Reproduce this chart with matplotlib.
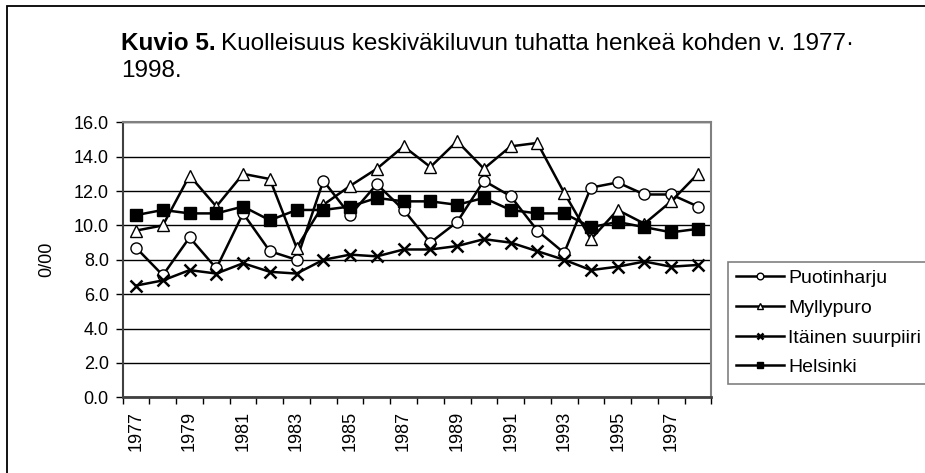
"""
Kuvio 5 — kuolleisuus keskiväkiluvun tuhatta henkeä kohden 1977–1998.
"""

import matplotlib
matplotlib.use("Agg")
import matplotlib.pyplot as plt
import matplotlib.patches as patches

# ── Data ───────────────────────────────────────────────────────────────────────
years = list(range(1977, 1999))

puotinharju = [8.7, 7.1, 9.3, 7.5, 10.7, 8.5, 8.0, 12.6, 10.6, 12.4, 10.9,
               9.0, 10.2, 12.6, 11.7, 9.7, 8.4, 12.2, 12.5, 11.8, 11.8, 11.1]
myllypuro = [9.7, 10.0, 12.9, 11.1, 13.0, 12.7, 8.7, 11.2, 12.3, 13.3, 14.6,
             13.4, 14.9, 13.3, 14.6, 14.8, 11.9, 9.2, 10.9, 10.1, 11.4, 13.0]
itainen = [6.5, 6.8, 7.4, 7.2, 7.8, 7.3, 7.2, 8.0, 8.3, 8.2, 8.6,
           8.6, 8.8, 9.2, 9.0, 8.5, 8.0, 7.4, 7.6, 7.9, 7.6, 7.7]
helsinki = [10.6, 10.9, 10.7, 10.7, 11.1, 10.3, 10.9, 10.9, 11.1, 11.6, 11.4,
            11.4, 11.2, 11.6, 10.9, 10.7, 10.7, 9.9, 10.2, 9.9, 9.6, 9.8]

series_labels = ["Puotinharju", "Myllypuro", "Itäinen suurpiiri", "Helsinki"]
y_ticks = [0, 2, 4, 6, 8, 10, 12, 14, 16]

# ── Figure ─────────────────────────────────────────────────────────────────────
plt.rcParams["font.family"] = ["Liberation Sans", "DejaVu Sans"]

W, H = 925, 473
fig = plt.figure(figsize=(W / 100, H / 100), dpi=100)

# outer frame (only left and top edges fall inside the picture)
fig.patches.append(patches.Rectangle(
    (7 / W, -0.2), 1.2, 1.2 - 6 / H, transform=fig.transFigure,
    fill=False, lw=1.3, edgecolor="black"))

ax = fig.add_axes([122.7 / W, 1 - 397.3 / H, (711.3 - 122.7) / W, (397.3 - 122.3) / H])

x = list(range(len(years)))
styles = [
    dict(marker="o", mfc="white", mec="black", ms=8),
    dict(marker="^", mfc="white", mec="black", ms=8),
    dict(marker="x", mfc="black", mec="black", ms=8, mew=1.8),
    dict(marker="s", mfc="black", mec="black", ms=8),
]
handles = []
for vals, lbl, st in zip([puotinharju, myllypuro, itainen, helsinki], series_labels, styles):
    ln, = ax.plot(x, vals, color="black", lw=1.8, label=lbl, **st, zorder=3)
    handles.append(ln)

ax.set_xlim(-0.5, len(years) - 0.5)
ax.set_ylim(0, 16)

# y axis
ax.set_yticks(y_ticks)
ax.set_yticklabels([f"{v:.1f}" for v in y_ticks], fontsize=13)
ax.tick_params(axis="y", direction="out", length=5, width=1, pad=5)
ax.yaxis.grid(True, color="black", lw=1.0)
ax.set_axisbelow(True)
ax.set_ylabel("0/00", fontsize=13, labelpad=13)

# x axis: ticks between categories, labels every other year
ax.set_xticks([i - 0.5 for i in range(len(years) + 1)])
ax.set_xticklabels([])
ax.tick_params(axis="x", which="major", direction="out", length=5, width=1)
ax.set_xticks(x[::2], minor=True)
ax.set_xticklabels([str(y) for y in years[::2]], minor=True, rotation=90, fontsize=13)
ax.tick_params(axis="x", which="minor", length=0, pad=10)

for side in ("top", "right"):
    ax.spines[side].set_color("#808080")
    ax.spines[side].set_linewidth(1.5)
ax.spines["left"].set_linewidth(1.5)
ax.spines["left"].set_color("#404040")
ax.spines["bottom"].set_linewidth(2)
ax.spines["bottom"].set_color("#404040")

# ── Legend ─────────────────────────────────────────────────────────────────────
leg = fig.legend(handles=handles, loc="lower left",
                 bbox_to_anchor=(728 / W, 1 - 384 / H),
                 fontsize=14, frameon=True, fancybox=False, markerscale=0.6,
                 handlelength=2.5, handletextpad=0.2, borderpad=0.4,
                 labelspacing=0.62, borderaxespad=0)
leg.get_frame().set_edgecolor("#606060")
leg.get_frame().set_linewidth(1.2)

# ── Title ──────────────────────────────────────────────────────────────────────
renderer = fig.canvas.get_renderer()
tx, ty1, ty2 = 121 / W, 1 - 50 / H, 1 - 77 / H
t_bold = fig.text(tx, ty1, "Kuvio 5.", fontsize=17.5, fontweight="bold", va="baseline")
bb = t_bold.get_window_extent(renderer)
fig.text(bb.x1 / W + 5 / W, ty1,
         "Kuolleisuus keskiväkiluvun tuhatta henkeä kohden v. 1977·",
         fontsize=17.5, va="baseline")
fig.text(tx, ty2, "1998.", fontsize=17.5, va="baseline")

fig.savefig("out.png", dpi=100)
